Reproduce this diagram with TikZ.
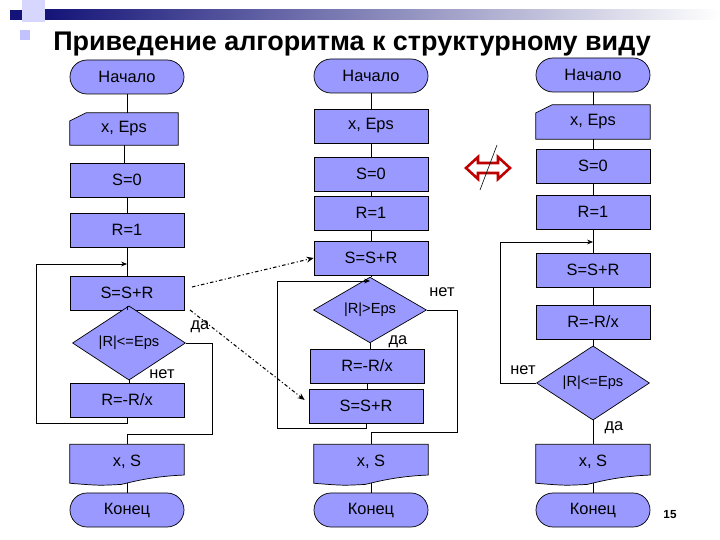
\documentclass[tikz,border=0pt]{standalone}
\usepackage{fontspec}
\setmainfont{Liberation Sans}
\usetikzlibrary{shapes.geometric,shapes.misc,calc,arrows.meta}
\definecolor{fb}{RGB}{153,153,255}
\definecolor{navy}{RGB}{20,20,120}
\begin{document}
\begin{tikzpicture}[x=0.03cm,y=-0.03cm,
  every node/.style={font=\fontsize{14}{16}\selectfont},
  base/.style={draw=black,fill=fb,line width=0.6pt,inner sep=0pt,minimum width=3.42cm,minimum height=1.02cm},
  proc/.style={base,rectangle},
  term/.style={base,rounded rectangle},
  dec/.style={base,diamond,minimum width=3.39cm,minimum height=1.32cm,font=\fontsize{12.5}{14}\selectfont},
  io/.style={rectangle,inner sep=0pt,minimum width=3.42cm,minimum height=1.02cm},
  lab/.style={font=\fontsize{14}{16}\selectfont},
  ln/.style={line width=0.6pt},
  ar/.style={ln,-{Stealth[length=5pt,width=4pt]}},
  dd/.style={line width=0.9pt,dash dot,-{Stealth[length=6pt,width=5pt]}}]
\useasboundingbox (0,0) rectangle (720,540);
% decoration
\fill[fb!40] (22,0) rectangle (45,22);
\fill[fb!60] (20,30) rectangle (30,40);
\fill[navy] (10,10) rectangle (22,20);
\shade[left color=navy,right color=white] (45,10) rectangle (720,20);
\node[font=\bfseries\fontsize{23}{26}\selectfont] (title) at (352,44) {Приведение алгоритма к структурному виду};
\node[font=\bfseries\fontsize{10}{11}\selectfont] (pg) at (670,515) {15};
\newcommand\manin[1]{\filldraw[fill=fb,ln] (#1.south west) -- ($(#1.north west)+(0,-7pt)$) -- ($(#1.north west)+(14pt,0)$) -- (#1.north east) -- (#1.south east) -- cycle;}
\newcommand\docu[1]{\filldraw[fill=fb,ln] (#1.north west) -- (#1.north east) -- ($(#1.south east)+(0,4pt)$) .. controls ($(#1.south)+(20pt,3pt)$) and ($(#1.south)+(0,-3pt)$) .. ($(#1.south)+(-5pt,-4pt)$) .. controls ($(#1.south west)+(25pt,-5pt)$) .. ($(#1.south west)+(0,-3pt)$) -- cycle;}
\newcommand\cn[2]{\draw[ln] (#1.south) -- (#1.south |- #2.north);}
% ---------- left
\node[term] (L1) at (127,77) {Начало};
\node[io,minimum width=3.24cm,minimum height=0.96cm] (L2) at (124,129) {};
\manin{L2}\node at (L2) {x, Eps};
\node[proc] (L3) at (127,180) {S=0};
\node[proc] (L4) at (127,230) {R=1};
\node[proc] (L5) at (127,293) {S=S+R};
\node[dec] (L6) at (129,343) {|R|<=Eps};
\node[proc] (L7) at (127,400) {R=-R/x};
\node[io,minimum height=1.05cm] (L8) at (127,462) {};
\docu{L8}\node at (L8) {x, S};
\node[term] (L9) at (127,510) {Конец};
\cn{L1}{L2}\cn{L2}{L3}\cn{L3}{L4}\cn{L4}{L5}\cn{L5}{L6}\cn{L6}{L7}
\draw[ln] ($(L8.south)+(0,-3pt)$) -- (L8.south |- L9.north);
\coordinate (la) at (36,423);
\coordinate (lm) at (127,264);
\draw[ar] (L7.south) |- (la) |- (lm);
\coordinate (ld) at (212,434);
\draw[ln] (L6.east) -| (ld) -| (L8.north);
\node[lab] (l1) at (200,327) {да};
\node[lab] (l2) at (162,374) {нет};
% ---------- middle
\node[term] (M1) at (371,76) {Начало};
\node[proc] (M2) at (371,126) {x, Eps};
\node[proc] (M3) at (371,174) {S=0};
\node[proc] (M4) at (371,213) {R=1};
\node[proc] (M5) at (371,258) {S=S+R};
\node[dec] (M6) at (370,310) {|R|>Eps};
\node[proc] (M7) at (367,366) {R=-R/x};
\node[proc] (M8) at (366,406) {S=S+R};
\node[io,minimum height=1.05cm] (M9) at (371,462) {};
\docu{M9}\node at (M9) {x, S};
\node[term] (M10) at (371,510) {Конец};
\cn{M1}{M2}\cn{M2}{M3}\cn{M3}{M4}\cn{M4}{M5}\cn{M5}{M6}\cn{M6}{M7}\cn{M7}{M8}
\draw[ln] ($(M9.south)+(0,-3pt)$) -- (M9.south |- M10.north);
\coordinate (ma) at (277,428);
\coordinate (mm) at (370,281);
\draw[ar] (M8.south) |- (ma) |- (mm);
\coordinate (mn) at (457,432);
\draw[ln] (M6.east) -| (mn) -| (M9.north);
\node[lab] (m1) at (442,292) {нет};
\node[lab] (m2) at (398,342) {да};
% ---------- right
\node[term] (R1) at (593,75) {Начало};
\node[io] (R2) at (593,122) {};
\manin{R2}\node at (R2) {x, Eps};
\node[proc] (R3) at (593,166) {S=0};
\node[proc] (R4) at (593,212) {R=1};
\node[proc] (R5) at (593,270) {S=S+R};
\node[proc] (R6) at (593,322) {R=-R/x};
\node[dec] (R7) at (593,383) {|R|<=Eps};
\node[io,minimum height=1.05cm] (R8) at (593,462) {};
\docu{R8}\node at (R8) {x, S};
\node[term] (R9) at (593,510) {Конец};
\cn{R1}{R2}\cn{R2}{R3}\cn{R3}{R4}\cn{R4}{R5}\cn{R5}{R6}\cn{R6}{R7}\cn{R7}{R8}
\draw[ln] ($(R8.south)+(0,-3pt)$) -- (R8.south |- R9.north);
\coordinate (rc) at (500,242);
\coordinate (rm) at (593,242);
\draw[ar] (R7.west) -| (rc) -- (rm);
\node[lab] (r1) at (523,370) {нет};
\node[lab] (r2) at (614,428) {да};
% dotted arrows
\coordinate (d1) at (192,287);
\coordinate (d2) at (190,310);
\draw[dd] (d1) -- (M5.west);
\draw[dd] (d2) -- ($(M8.west)+(-4,-6)$);
% red symbol
\filldraw[draw=red!75!black,fill=white,line width=2.2pt,line join=miter]
 (466,168) -- (478,157) -- (478,163) -- (498,163) -- (498,157) -- (510,168) -- (498,179) -- (498,173) -- (478,173) -- (478,179) -- cycle;
\draw[line width=0.5pt] (497,145) -- (480,190);
\end{tikzpicture}
\end{document}
